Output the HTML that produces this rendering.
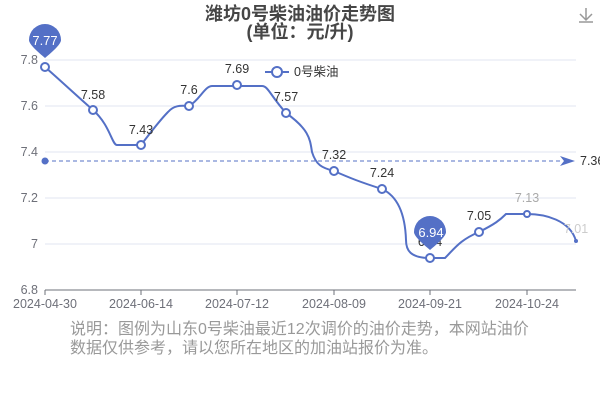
<!DOCTYPE html>
<html><head><meta charset="utf-8"><style>
body{margin:0;background:#fff;}
svg{display:block;font-family:"Liberation Sans","Noto Sans CJK SC",sans-serif;}
</style></head><body>
<svg width="600" height="400" viewBox="0 0 600 400">
<g stroke="#e0e6f1" stroke-width="1">
<line x1="45" y1="60" x2="576" y2="60"/><line x1="45" y1="106" x2="576" y2="106"/>
<line x1="45" y1="152" x2="576" y2="152"/><line x1="45" y1="198" x2="576" y2="198"/>
<line x1="45" y1="244" x2="576" y2="244"/>
</g>
<line x1="45" y1="290" x2="576" y2="290" stroke="#6e7079"/>
<g stroke="#6e7079"><line x1="45" y1="290" x2="45" y2="295"/><line x1="141" y1="290" x2="141" y2="295"/><line x1="237" y1="290" x2="237" y2="295"/><line x1="334" y1="290" x2="334" y2="295"/><line x1="430" y1="290" x2="430" y2="295"/><line x1="527" y1="290" x2="527" y2="295"/></g>
<g fill="#6e7079" font-size="12.5" text-anchor="end">
<text x="38" y="64">7.8</text><text x="38" y="110">7.6</text><text x="38" y="156">7.4</text><text x="38" y="202">7.2</text><text x="38" y="248">7</text><text x="38" y="294">6.8</text>
</g>
<g fill="#6e7079" font-size="12.5" text-anchor="middle">
<text x="45" y="308">2024-04-30</text><text x="141" y="308">2024-06-14</text><text x="237" y="308">2024-07-12</text><text x="334" y="308">2024-08-09</text><text x="430" y="308">2024-09-21</text><text x="527" y="308">2024-10-24</text>
</g>
<text x="300" y="20" text-anchor="middle" font-size="18" font-weight="bold" fill="#464646">潍坊0号柴油油价走势图</text>
<text x="300" y="38" text-anchor="middle" font-size="18" font-weight="bold" fill="#464646">(单位：元/升)</text>
<g stroke="#999" stroke-width="1.5" fill="none"><path d="M586 8v12M580 14l6 6 6-6M579 22h14"/></g>
<line x1="45" y1="161" x2="563" y2="161" stroke="#5470c6" stroke-dasharray="4,3"/>
<path d="M560 156l15 5-15 5 4-5z" fill="#5470c6"/>
<circle cx="45" cy="161" r="3.5" fill="#5470c6"/>
<text x="580" y="165" font-size="12.5" fill="#333">7.36</text>
<path d="M45 67 C61 81,77 96,93 110 C110 125,112 145,117 145 L135 145 C145 145,141 142,141 145 C141 145,160 120,168 112 C175 104,183 106,189 106 C200 100,205 85,213 86 L262 86 C268 86,270 95,286 113 C310 130,310 140,312 152 C316 165,322 168,334 171 C350 178,360 182,382 189 C395 195,405 210,406 240 C406 250,410 258,430 258 L445 258 C455 248,460 240,479 232 C495 224,500 220,506 214 L527 214 C545 214,570 220,576 241" fill="none" stroke="#5470c6" stroke-width="2"/>
<g fill="#fff" stroke="#5470c6" stroke-width="2">
<circle cx="45" cy="67" r="4"/><circle cx="93" cy="110" r="4"/><circle cx="141" cy="145" r="4"/><circle cx="189" cy="106" r="4"/><circle cx="237" cy="85" r="4"/><circle cx="286" cy="113" r="4"/><circle cx="334" cy="171" r="4"/><circle cx="382" cy="189" r="4"/><circle cx="430" cy="258" r="4"/><circle cx="479" cy="232" r="4"/><circle cx="527" cy="214" r="3"/>
</g>
<circle cx="576" cy="241" r="2" fill="#5470c6"/>
<g font-size="12.5" fill="#333" text-anchor="middle">
<text x="93" y="99">7.58</text><text x="141" y="134">7.43</text><text x="189" y="94">7.6</text><text x="237" y="73">7.69</text><text x="286" y="101">7.57</text><text x="334" y="159">7.32</text><text x="382" y="177">7.24</text><text x="430" y="246">6.94</text><text x="479" y="220">7.05</text>
</g>
<text x="527" y="202" font-size="12.5" fill="#aaa" text-anchor="middle">7.13</text>
<text x="576" y="233" font-size="12.5" fill="#ccc" text-anchor="middle">7.01</text>
<path d="M45 58 C33 48,29 43,29 40 A16 16 0 1 1 61 40 C61 43,57 48,45 58z" fill="#5470c6"/>
<text x="45" y="45" font-size="13" fill="#fff" text-anchor="middle">7.77</text>
<path d="M430 250 C418 240,414 235,414 232 A16 16 0 1 1 446 232 C446 235,442 240,430 250z" fill="#5470c6"/>
<text x="431" y="237" font-size="13" fill="#fff" text-anchor="middle">6.94</text>
<line x1="265" y1="72" x2="289" y2="72" stroke="#5470c6" stroke-width="2"/>
<circle cx="277" cy="72" r="5" fill="#fff" stroke="#5470c6" stroke-width="2"/>
<text x="294" y="76" font-size="12.5" fill="#333">0号柴油</text>
<text x="70" y="334" font-size="16" fill="#999">说明：图例为山东0号柴油最近12次调价的油价走势，本网站油价</text>
<text x="70" y="353" font-size="16" fill="#999">数据仅供参考，请以您所在地区的加油站报价为准。</text>
</svg>
</body></html>
